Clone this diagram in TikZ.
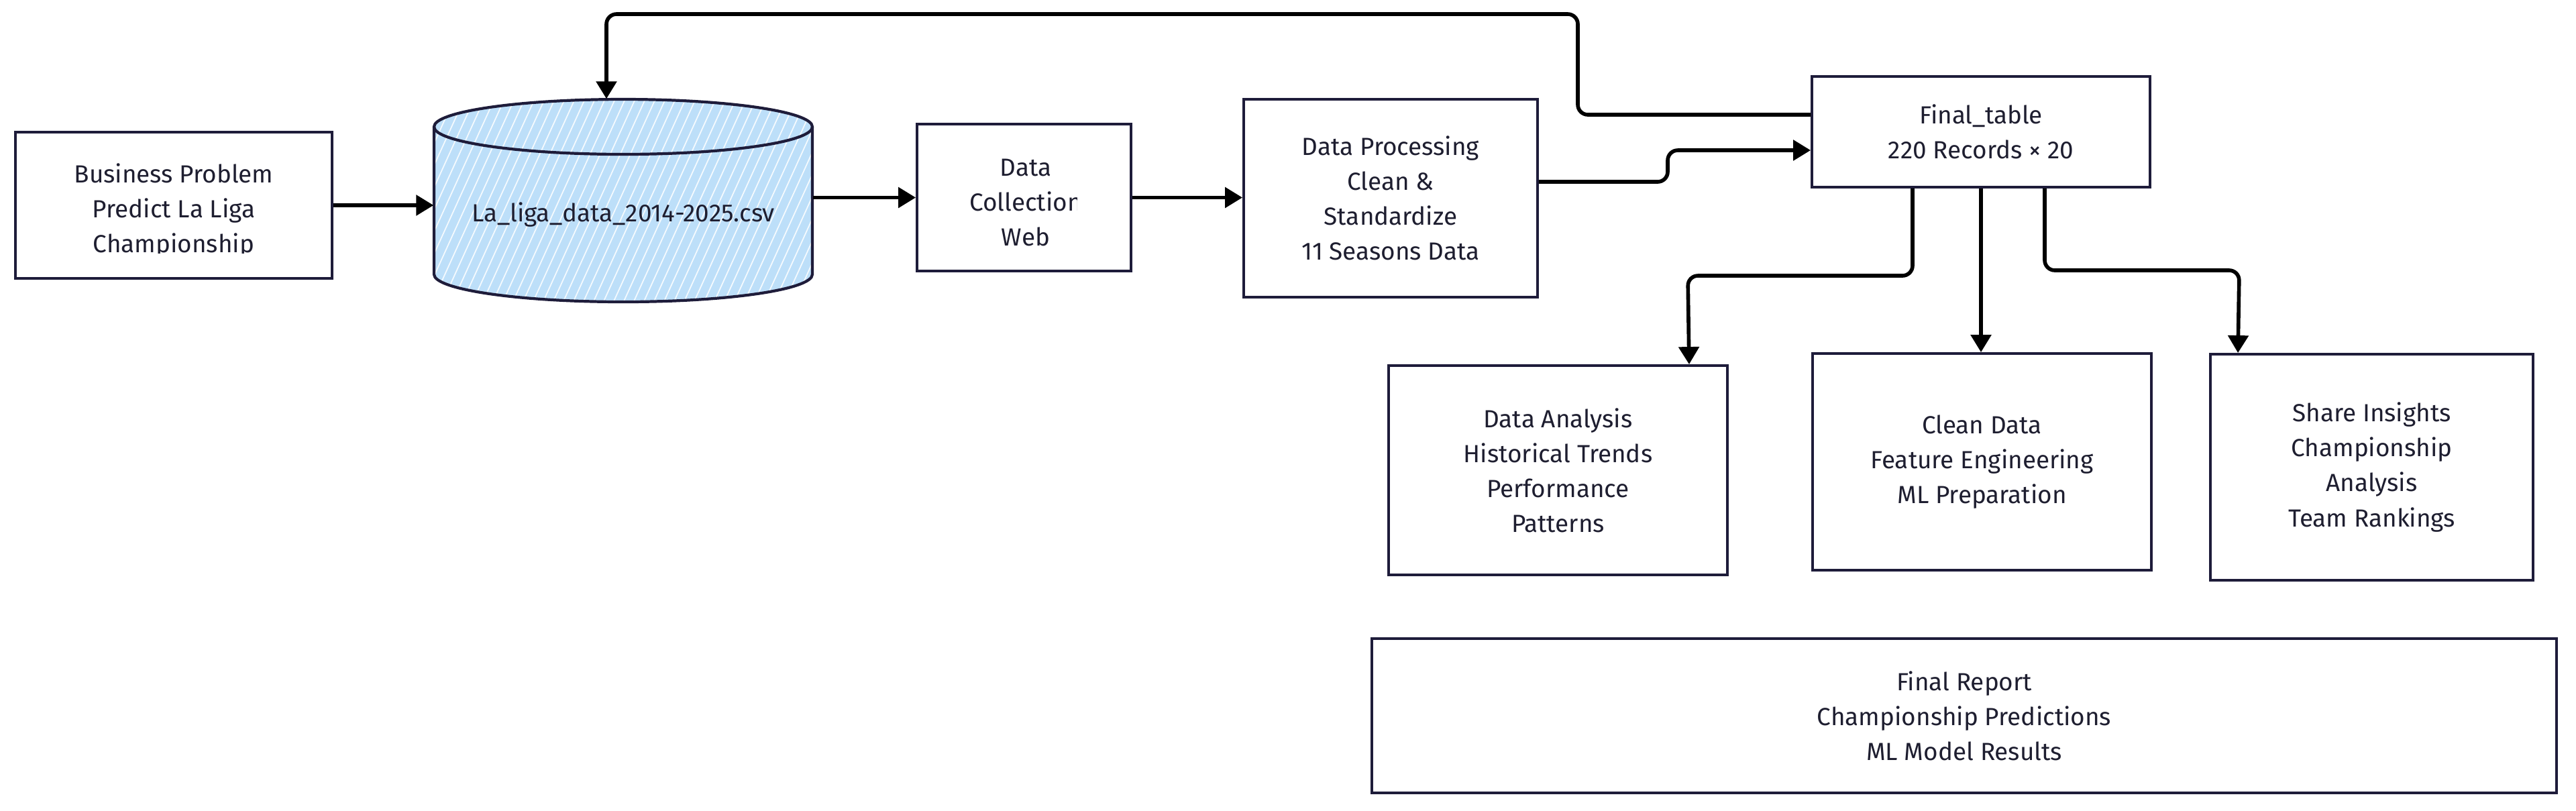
\documentclass[tikz,border=0pt]{standalone}
\usepackage{fontspec}
\setmainfont{Fira Sans}
\usetikzlibrary{arrows.meta,calc}
\definecolor{ink}{RGB}{30,30,48}
\definecolor{edge}{RGB}{30,28,58}
\definecolor{cyl}{RGB}{189,223,249}
\tikzset{
  box/.style={draw=edge, line width=1.1pt, fill=white, inner sep=0pt},
  txt/.style={text=ink, align=center, inner sep=0pt, font=\fontsize{10.5}{14.8}\selectfont},
  arr/.style={draw=black, line width=1.6pt, -{Triangle[length=0.26cm,width=0.3cm]}, rounded corners=0.15cm},
  cylline/.style={draw=edge, line width=1.2pt},
}
\begin{document}
\begin{tikzpicture}
\useasboundingbox (0,0) rectangle (38.4,-12.08);

% cylinder (database)
\fill[cyl] (6.47,-1.89) -- (6.47,-4.09) arc[start angle=180,end angle=360,x radius=2.82,y radius=0.41]
  -- (12.11,-1.89) arc[start angle=0,end angle=180,x radius=2.82,y radius=0.41] -- cycle;
\begin{scope}
  \clip (6.47,-1.89) -- (6.47,-4.09) arc[start angle=180,end angle=360,x radius=2.82,y radius=0.41]
    -- (12.11,-1.89) arc[start angle=0,end angle=180,x radius=2.82,y radius=0.41] -- cycle;
  \foreach \i in {0,...,52} {
    \draw[white, line width=0.5pt, opacity=0.85] (4.9+\i*0.15,-4.6) -- ++(1.5,3.3);
  }
\end{scope}
\draw[cylline] (6.47,-1.89) -- (6.47,-4.09) arc[start angle=180,end angle=360,x radius=2.82,y radius=0.41] -- (12.11,-1.89);
\draw[cylline] (9.29,-1.89) ellipse [x radius=2.82, y radius=0.41];
\node[inner sep=0pt, minimum width=5.64cm, minimum height=3.02cm] (db) at (9.29,-2.99) {};
\node[txt] (dbt) at (9.29,-3.20) {La\_liga\_data\_2014-2025.csv};

% Business problem
\node[box, minimum width=4.72cm, minimum height=2.18cm] (bp) at (2.59,-3.06) {};
\begin{scope}
  \clip (0.3,-1.97) rectangle (4.9,-3.77);
  \node[txt] (bpt) at (2.59,-3.14) {Business Problem\\Predict La Liga\\Championship};
\end{scope}

% Data collection
\node[box, minimum width=3.19cm, minimum height=2.19cm] (dc) at (15.265,-2.945) {};
\begin{scope}
  \clip (13.8,-1.9) rectangle (16.05,-4.0);
  \node[txt] (dct) at (15.29,-3.02) {Data\\Collection\\Web};
\end{scope}

% Data processing
\node[box, txt, minimum width=4.38cm, minimum height=2.95cm] (dp) at (20.73,-2.955)
  {Data Processing\\Clean \&\\Standardize\\11 Seasons Data};

% Final table
\node[box, txt, minimum width=5.04cm, minimum height=1.65cm] (ft) at (29.53,-1.965)
  {Final\_table\\220 Records × 20};

% Lower row
\node[box, txt, minimum width=5.05cm, minimum height=3.12cm] (da) at (23.225,-7.01)
  {Data Analysis\\Historical Trends\\Performance\\Patterns};
\node[box, txt, minimum width=5.05cm, minimum height=3.23cm] (cd) at (29.545,-6.885)
  {Clean Data\\Feature Engineering\\ML Preparation};
\node[box, txt, minimum width=4.81cm, minimum height=3.37cm] (si) at (35.355,-6.965)
  {Share Insights\\Championship\\Analysis\\Team Rankings};

% Final report
\node[box, txt, minimum width=17.66cm, minimum height=2.30cm] (fr) at (29.28,-10.67)
  {Final Report\\Championship Predictions\\ML Model Results};

% connectors
\draw[arr] (bp.east) -- (db.west |- bp.east);
\draw[arr] (db.east |- dc.west) -- (dc.west);
\draw[arr] (dc.east) -- (dp.west |- dc.east);
\draw[arr] ($(dp.east)+(0,0.245)$) -- (24.86,-2.71) -- (24.86,-2.24) -- ($(ft.west)+(0,-0.275)$);
\draw[arr] ($(ft.west)+(0,0.255)$) -- (23.52,-1.71) -- (23.52,-0.21) -- (9.04,-0.21) -- ($(db.north)+(-0.25,0)$);
\draw[arr] ($(ft.south)+(-1.02,0)$) -- (28.51,-4.11) -- (25.16,-4.11) -- ($(da.north east)+(-0.59,0)$);
\draw[arr] (ft.south) -- (ft.south |- cd.north);
\draw[arr] ($(ft.south)+(0.95,0)$) -- (30.48,-4.03) -- (33.38,-4.03) -- ($(si.north west)+(0.43,0)$);
\end{tikzpicture}
\end{document}
